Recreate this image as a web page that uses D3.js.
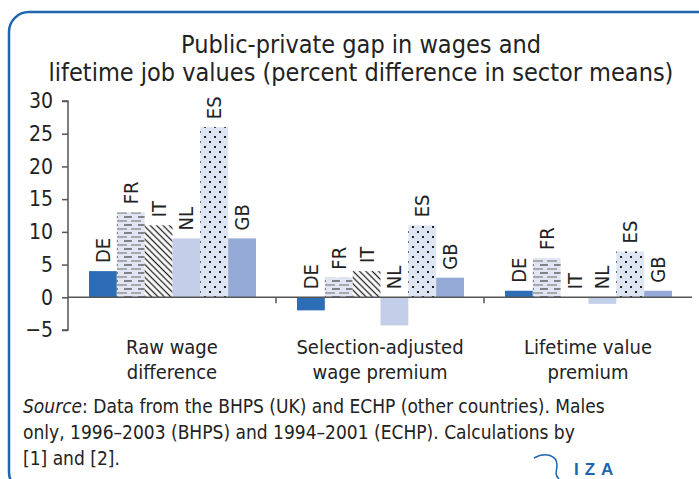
<!DOCTYPE html>
<html>
<head>
<meta charset="utf-8">
<script src="https://cdn.jsdelivr.net/npm/d3@7"></script>
<style>
  body { margin: 0; background: #fff; }
  svg text { font-family: "Liberation Sans Narrow", "DejaVu Sans Condensed", "Roboto", sans-serif; fill: #222; }
</style>
</head>
<body>
<svg id="chart" width="699" height="479"></svg>
<script>
const groups = ["Raw wage|difference", "Selection-adjusted|wage premium", "Lifetime value|premium"];
const countries = ["DE", "FR", "IT", "NL", "ES", "GB"];
const rawWage = [4, 13, 11, 9, 26, 9];
const selAdjusted = [-2, 3, 4, -4.3, 11, 3];
const lifetime = [1, 6, 0, -1, 7, 1];
const yTicks = [-5, 0, 5, 10, 15, 20, 25, 30];

const seriesByGroup = [rawWage, selAdjusted, lifetime];
const fills = {DE: "#2d6db5", FR: "url(#pFR)", IT: "url(#pIT)", NL: "#c3cee8", ES: "url(#pES)", GB: "#96aad7"};

const svg = d3.select("#chart");

// frame
svg.append("rect")
  .attr("x", 9).attr("y", 12).attr("width", 710).attr("height", 480)
  .attr("rx", 20).attr("fill", "none")
  .attr("stroke", "#1f66b0").attr("stroke-width", 2.5);

// patterns
const defs = svg.append("defs");
const pFR = defs.append("pattern").attr("id", "pFR").attr("patternUnits", "userSpaceOnUse")
  .attr("width", 14).attr("height", 8);
pFR.append("rect").attr("width", 14).attr("height", 8).attr("fill", "#dfe5f2");
pFR.append("line").attr("x1", 0).attr("x2", 8).attr("y1", 1).attr("y2", 1).attr("stroke", "#333").attr("stroke-width", 1.1);
pFR.append("line").attr("x1", 7).attr("x2", 14).attr("y1", 5).attr("y2", 5).attr("stroke", "#888").attr("stroke-width", 1.3);
pFR.append("line").attr("x1", 0).attr("x2", 3).attr("y1", 5).attr("y2", 5).attr("stroke", "#888").attr("stroke-width", 1.3);

const pIT = defs.append("pattern").attr("id", "pIT").attr("patternUnits", "userSpaceOnUse")
  .attr("width", 4.5).attr("height", 4.5).attr("patternTransform", "rotate(45)");
pIT.append("rect").attr("width", 4.5).attr("height", 4.5).attr("fill", "#fff");
pIT.append("line").attr("x1", 0).attr("x2", 4.5).attr("y1", 2.25).attr("y2", 2.25).attr("stroke", "#222").attr("stroke-width", 1.3);

const pES = defs.append("pattern").attr("id", "pES").attr("patternUnits", "userSpaceOnUse")
  .attr("width", 10).attr("height", 10);
pES.append("rect").attr("width", 10).attr("height", 10).attr("fill", "#dde4f2");
pES.append("rect").attr("x", 1).attr("y", 1).attr("width", 2).attr("height", 2).attr("fill", "#222");
pES.append("rect").attr("x", 6).attr("y", 6).attr("width", 2).attr("height", 2).attr("fill", "#222");

// title
svg.append("text").attr("x", 361).attr("y", 53).attr("text-anchor", "middle")
  .attr("font-size", 25).text("Public-private gap in wages and");
svg.append("text").attr("x", 361).attr("y", 81).attr("text-anchor", "middle")
  .attr("font-size", 25).text("lifetime job values (percent difference in sector means)");

// scales
const y = d3.scaleLinear().domain([-5, 30]).range([330, 101]);
const x0 = d3.scaleBand().domain(d3.range(groups.length)).range([68, 692]);
const x1 = d3.scaleBand().domain(countries).range([21, x0.bandwidth() - 20]);

// y axis
const yAxis = svg.append("g").attr("transform", "translate(68,0)")
  .call(d3.axisLeft(y).tickValues(yTicks).tickSize(6).tickPadding(9)
    .tickFormat(d => d < 0 ? "\u2212" + Math.abs(d) : d));
yAxis.select(".domain").attr("stroke", "#555").attr("stroke-width", 1.5).attr("d", "M-6," + y(-5) + "H0V" + y(30) + "H-6");
yAxis.selectAll(".tick line").attr("stroke", "#555").attr("stroke-width", 1.5);
yAxis.selectAll(".tick text").attr("font-size", 21).attr("fill", "#222")
  .style("font-family", "'Liberation Sans Narrow', 'DejaVu Sans Condensed', sans-serif");

// bars
groups.forEach((g, gi) => {
  const gEl = svg.append("g").attr("transform", `translate(${x0(gi)},0)`);
  const vals = seriesByGroup[gi];
  gEl.selectAll("rect").data(countries).enter().append("rect")
    .attr("x", d => x1(d))
    .attr("width", x1.bandwidth())
    .attr("y", (d, i) => y(Math.max(0, vals[i])))
    .attr("height", (d, i) => Math.abs(y(vals[i]) - y(0)))
    .attr("fill", d => fills[d]);
  gEl.selectAll("text.lbl").data(countries).enter().append("text")
    .attr("class", "lbl")
    .attr("font-size", 20)
    .attr("transform", (d, i) => `translate(${x1(d) + x1.bandwidth() / 2 + 7},${y(Math.max(0, vals[i])) - 8}) rotate(-90)`)
    .text(d => d);
  // category label
  g.split("|").forEach((line, li) => {
    svg.append("text").attr("x", x0(gi) + x0.bandwidth() / 2).attr("y", 354 + li * 25)
      .attr("text-anchor", "middle").attr("font-size", 20).text(line);
  });
});

// zero axis and group ticks
svg.append("line").attr("x1", 68).attr("x2", 692).attr("y1", y(0)).attr("y2", y(0))
  .attr("stroke", "#555").attr("stroke-width", 1.5);
svg.selectAll("line.sep").data([1, 2]).enter().append("line").attr("class", "sep")
  .attr("x1", d => x0(d)).attr("x2", d => x0(d))
  .attr("y1", y(0)).attr("y2", y(0) + 6)
  .attr("stroke", "#555").attr("stroke-width", 1.5);

// source note
const src = svg.append("text").attr("x", 23).attr("y", 413).attr("font-size", 19);
src.append("tspan").attr("font-style", "italic").text("Source");
src.append("tspan").text(": Data from the BHPS (UK) and ECHP (other countries). Males");
svg.append("text").attr("x", 23).attr("y", 439).attr("font-size", 19)
  .text("only, 1996\u20132003 (BHPS) and 1994\u20132001 (ECHP). Calculations by");
svg.append("text").attr("x", 23).attr("y", 465).attr("font-size", 19).text("[1] and [2].");

// IZA logo
svg.append("path").attr("d", "M534,458 C546,451 557,456 557,465 C557,471 554,474 559,479")
  .attr("fill", "none").attr("stroke", "#1f66b0").attr("stroke-width", 1.5);
svg.append("text").attr("x", 574).attr("y", 475).attr("font-size", 17).attr("font-weight", "bold")
  .attr("letter-spacing", 6).style("fill", "#1f66b0").style("font-family", "'Liberation Sans', sans-serif")
  .text("IZA");
</script>
</body>
</html>
